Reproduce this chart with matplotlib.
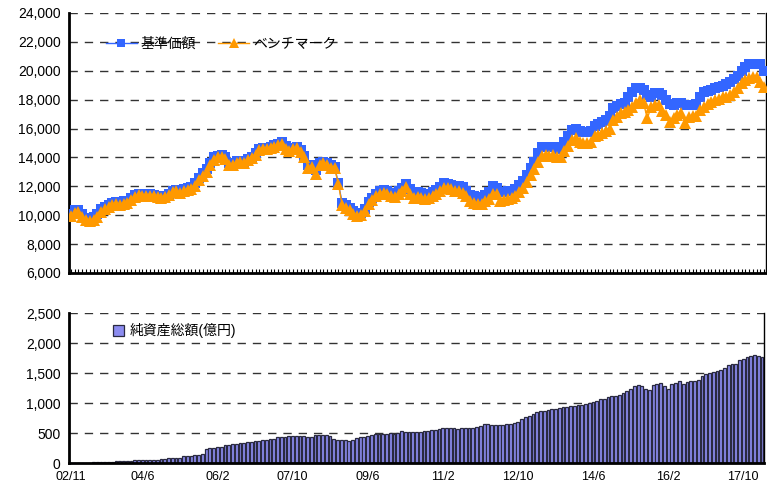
import matplotlib
matplotlib.use("Agg")
import matplotlib.pyplot as plt
import numpy as np

plt.rcParams['font.family'] = ['Liberation Sans', 'Noto Sans CJK JP']

# monthly data, 2002/11 .. 2018/03
nav_price = [
    10050, 10350, 10350, 10100, 9800, 9800, 9850, 10100, 10450, 10550,
    10700, 10850, 10900, 10850, 10950, 11000, 11200, 11400, 11500, 11450,
    11450, 11450, 11400, 11350, 11300, 11350, 11500, 11700, 11750, 11700,
    11800, 11850, 11950, 12200, 12600, 12900, 13200, 13600, 14000, 14100,
    14150, 14050, 13600, 13600, 13750, 13750, 13700, 13900, 14050, 14300,
    14600, 14650, 14650, 14750, 14850, 14950, 15050, 14800, 14600, 14650,
    14700, 14500, 14100, 13500, 13450, 13150, 13600, 13700, 13600, 13450,
    13350, 12200, 10850, 10700, 10500, 10300, 10150, 10150, 10450, 10900,
    11200, 11500, 11650, 11750, 11700, 11550, 11500, 11700, 11900, 12150,
    11800, 11500, 11600, 11550, 11500, 11500, 11600, 11750, 11950, 12200,
    12150, 12100, 12050, 12000, 11950, 11700, 11400, 11300, 11200, 11250,
    11400, 11600, 12000, 11900, 11600, 11600, 11650, 11700, 11800, 12100,
    12400, 12800, 13300, 13700, 14300, 14700, 14750, 14700, 14750, 14600,
    14700, 15050, 15500, 15900, 16000, 15850, 15750, 15750, 15800, 16200,
    16300, 16450, 16600, 16850, 17400, 17550, 17700, 17800, 18200, 18500,
    18800, 18800, 18700, 18300, 18200, 18450, 18450, 18300, 18000, 17700,
    17600, 17750, 17750, 17600, 17600, 17600, 17700, 18200, 18550, 18600,
    18700, 18800, 18850, 18950, 19050, 19250, 19400, 19650, 20000, 20250,
    20450, 20500, 20500, 20450, 19950,
]

benchmark = [
    9950, 10150, 10200, 9900, 9650, 9600, 9650, 9900, 10250, 10400,
    10550, 10700, 10750, 10700, 10800, 10850, 11050, 11250, 11400, 11350,
    11350, 11350, 11300, 11250, 11200, 11250, 11400, 11600, 11650, 11550,
    11700, 11750, 11800, 12050, 12450, 12700, 13000, 13500, 13850, 14000,
    14000, 13900, 13450, 13450, 13600, 13650, 13600, 13800, 13950, 14200,
    14500, 14550, 14550, 14650, 14750, 14850, 14950, 14600, 14450, 14550,
    14650, 14350, 14000, 13300, 13350, 12850, 13450, 13600, 13450, 13300,
    13250, 12150, 10700, 10500, 10350, 10100, 9950, 10000, 10300, 10750,
    11050, 11300, 11450, 11550, 11450, 11300, 11250, 11500, 11650, 11950,
    11500, 11200, 11250, 11200, 11150, 11200, 11300, 11450, 11650, 11850,
    11850, 11800, 11700, 11650, 11550, 11300, 10950, 10850, 10750, 10800,
    10950, 11150, 11500, 11450, 11000, 11050, 11100, 11200, 11300, 11600,
    11900, 12300, 12800, 13200, 13700, 14100, 14150, 14100, 14150, 14000,
    14050, 14450, 14800, 15200, 15350, 15100, 15000, 15000, 15050, 15500,
    15550, 15700, 15800, 16000, 16600, 16800, 17100, 17150, 17300, 17500,
    17800, 18000, 17750, 16700, 17500, 17600, 17600, 17200, 16950, 16450,
    16700, 16950, 17100, 16350, 16800, 16900, 16900, 17300, 17500, 17700,
    17850, 18000, 18050, 18150, 18200, 18350, 18550, 18800, 19150, 19350,
    19500, 19600, 19550, 19250, 18900,
]

net_assets = [
    0, 0, 0, 0, 0, 0, 10, 10, 12, 15,
    20, 25, 35, 35, 30, 35, 35, 45, 45, 45,
    50, 50, 45, 50, 70, 75, 80, 80, 80, 90,
    110, 115, 120, 135, 140, 150, 230, 255, 255, 260,
    270, 300, 305, 310, 320, 330, 340, 345, 350, 360,
    370, 385, 390, 395, 400, 430, 440, 440, 445, 455,
    455, 450, 445, 430, 440, 460, 465, 465, 460, 450,
    400, 385, 385, 380, 375, 385, 410, 430, 440, 450,
    470, 480, 490, 485, 480, 495, 490, 495, 540, 520,
    520, 510, 520, 525, 530, 535, 545, 555, 570, 580,
    580, 585, 580, 575, 580, 585, 580, 590, 600, 610,
    650, 645, 640, 640, 630, 640, 650, 650, 660, 690,
    730, 770, 790, 810, 850, 870, 870, 880, 900, 905,
    920, 940, 935, 945, 950, 960, 975, 985, 995, 1020,
    1040, 1060, 1075, 1100, 1110, 1125, 1140, 1165, 1200, 1230,
    1280, 1300, 1290, 1240, 1215, 1300, 1320, 1340, 1290, 1240,
    1320, 1340, 1360, 1310, 1355, 1370, 1370, 1380, 1450, 1490,
    1495, 1510, 1530, 1550, 1580, 1630, 1650, 1650, 1720, 1740,
    1760, 1790, 1800, 1780, 1760,
]

tick_pos = [0, 19, 39, 59, 79, 99, 119, 139, 159, 179]
tick_labels = ["02/11", "04/6", "06/2", "07/10", "09/6", "11/2", "12/10", "14/6", "16/2", "17/10"]

x = np.arange(len(nav_price))
n = len(x)

fig = plt.figure(figsize=(7.67, 4.88), dpi=100)
ax1 = fig.add_axes([0.090, 0.4406, 0.9087, 0.5328])
ax2 = fig.add_axes([0.090, 0.0512, 0.9060, 0.3074])

dash = (0, (6, 5))
grid_kw = dict(color='#333333', linewidth=1.0, linestyle=dash)

# top: price lines
ax1.plot(x, nav_price, color='#3366ff', linewidth=1.0, marker='s', markersize=6.5,
         markeredgewidth=0, label='基準価額', zorder=3)
ax1.plot(x, benchmark, color='#ff9900', linewidth=1.0, marker='^', markersize=8,
         markeredgewidth=0, label='ベンチマーク', zorder=4)
ax1.set_xlim(-0.5, n - 0.5)
ax1.set_ylim(6000, 24000)
ax1.set_yticks(np.arange(6000, 24001, 2000))
ax1.yaxis.set_major_formatter(matplotlib.ticker.FuncFormatter(lambda v, p: f"{int(v):,}"))
for v in np.arange(8000, 24001, 2000):
    ax1.axhline(v, zorder=1, **grid_kw)
ax1.set_xticks(x)
ax1.set_xticklabels([])
ax1.tick_params(axis='x', direction='in', length=3, width=0.8)
ax1.tick_params(axis='y', length=0, labelsize=10, pad=6)
ax1.spines['top'].set_visible(False)
ax1.spines['left'].set_linewidth(2)
ax1.spines['bottom'].set_linewidth(2)
ax1.spines['right'].set_linewidth(1)
ax1.legend(loc='upper left', bbox_to_anchor=(0.045, 0.93), ncol=2, frameon=False,
           fontsize=10, handlelength=2.2, handletextpad=0.3, columnspacing=1.6,
           borderaxespad=0, markerscale=0.9)

# bottom: net assets bars
ax2.bar(x, net_assets, width=0.75, color='#8c8cf0', edgecolor='#2a2a40', linewidth=0.9,
        label='純資産総額(億円)', zorder=2)
ax2.set_xlim(-0.5, n - 0.5)
ax2.set_ylim(0, 2500)
ax2.set_yticks(np.arange(0, 2501, 500))
ax2.yaxis.set_major_formatter(matplotlib.ticker.FuncFormatter(lambda v, p: f"{int(v):,}"))
for v in np.arange(500, 2501, 500):
    ax2.axhline(v, zorder=1, **grid_kw)
ax2.set_xticks(tick_pos)
ax2.set_xticklabels(tick_labels)
ax2.tick_params(axis='x', length=0, labelsize=9, pad=6)
ax2.tick_params(axis='y', length=0, labelsize=10, pad=6)
ax2.spines['top'].set_visible(False)
ax2.spines['left'].set_linewidth(2)
ax2.spines['bottom'].set_linewidth(2)
ax2.spines['right'].set_linewidth(1)
ax2.legend(loc='upper left', bbox_to_anchor=(0.055, 0.97), frameon=False, fontsize=10,
           handlelength=0.8, handleheight=0.8, handletextpad=0.4, borderaxespad=0)

fig.savefig('out.png', dpi=100)
plt.close(fig)
